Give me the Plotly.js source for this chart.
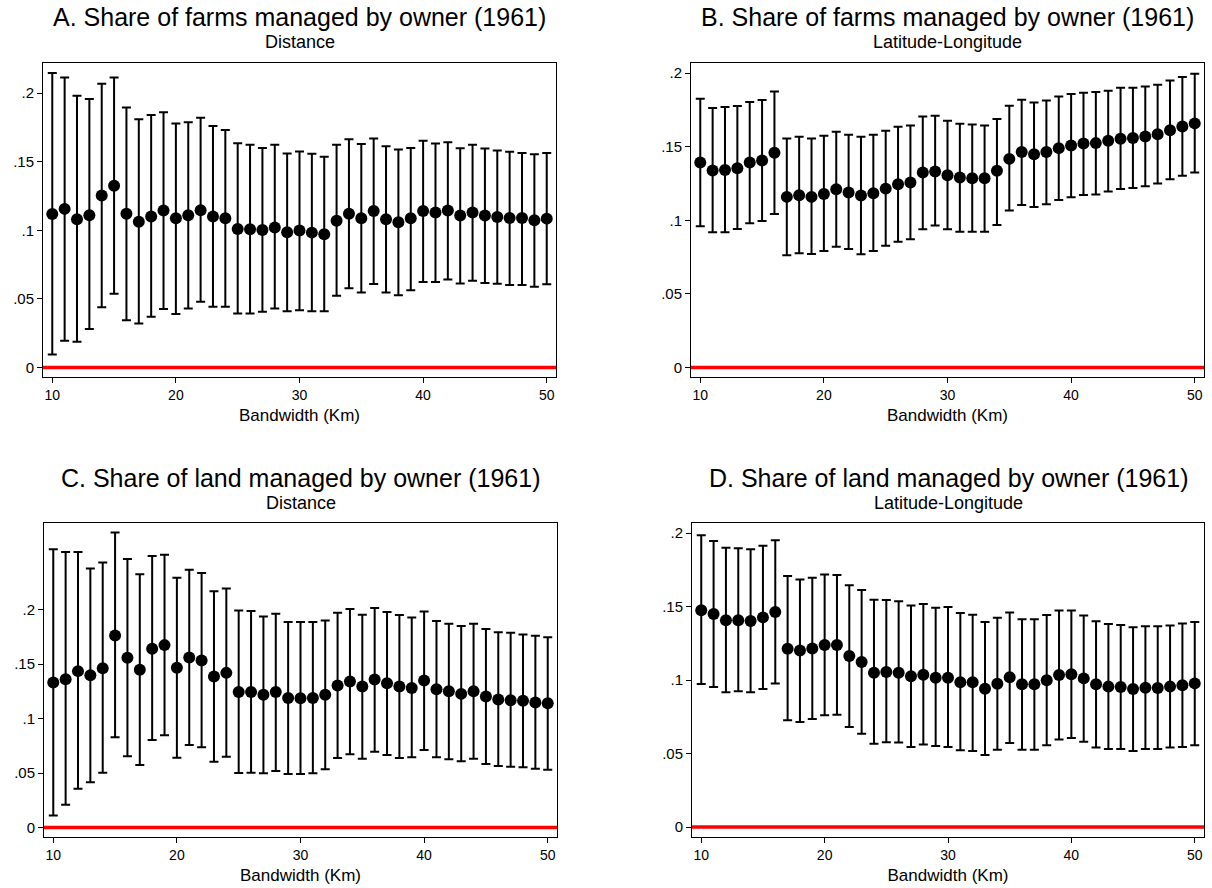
<!DOCTYPE html>
<html>
<head>
<meta charset="utf-8">
<script src="https://cdn.plot.ly/plotly-3.0.1.min.js"></script>
<style>
  html, body { margin: 0; padding: 0; background: #fff; }
  #chart { width: 1212px; height: 888px; }
</style>
</head>
<body>
<div id="chart"></div>
<script>
// Bandwidth (Km)
const bandwidth = [10,11,12,13,14,15,16,17,18,19,20,21,22,23,24,25,26,27,28,29,30,
                   31,32,33,34,35,36,37,38,39,40,41,42,43,44,45,46,47,48,49,50];

// A. Share of farms managed by owner (1961) - Distance
const farmsDistEst = [.1119,.1156,.108,.111,.1253,.1324,.112,.1063,.110,.1144,.1088,.111,.1146,.110,.1088,.101,.1007,.1002,.102,.0985,.0998,
                      .0983,.0971,.107,.112,.1088,.1141,.108,.1058,.1088,.1141,.1129,.1144,.1107,.1129,.1107,.1097,.109,.109,.1073,.1085];
const farmsDistHi  = [.2146,.2114,.198,.1956,.2068,.2114,.1895,.181,.184,.186,.1779,.1788,.182,.176,.173,.1635,.1623,.160,.1623,.156,.1574,
                      .1557,.1535,.1623,.1664,.1628,.1669,.1613,.1589,.160,.1652,.1633,.1642,.1598,.1623,.1596,.1582,.1572,.1564,.1555,.1564];
const farmsDistLo  = [.0095,.0195,.0187,.028,.044,.0538,.0345,.032,.037,.0426,.039,.043,.048,.0443,.0443,.0394,.0394,.0406,.043,.041,.0418,
                      .0411,.0411,.0523,.0577,.0547,.0608,.0547,.0526,.0564,.0623,.0623,.0642,.0613,.0633,.0616,.0611,.0601,.0601,.0589,.0606];

// B. Share of farms managed by owner (1961) - Latitude-Longitude
const farmsLatLonEst = [.1392,.1338,.1342,.1354,.1392,.1406,.1458,.1159,.117,.1159,.1179,.1211,.1188,.1168,.1184,.1215,.1245,.1256,.1324,.1331,.1306,
                        .129,.1286,.1286,.1336,.1417,.1463,.1449,.1463,.149,.1508,.1522,.1524,.154,.1553,.1558,.1569,.1585,.1612,.1637,.1658];
const farmsLatLonHi  = [.1825,.1762,.1769,.1776,.1803,.1816,.1875,.1556,.1567,.1556,.1574,.1601,.158,.1567,.158,.1608,.1635,.1644,.1705,.171,.1676,
                        .1655,.1651,.1644,.1687,.1778,.1819,.18,.1814,.1841,.1857,.1866,.1871,.188,.19,.19,.1909,.1921,.195,.1973,.1995];
const farmsLatLonLo  = [.0959,.0918,.0918,.0941,.098,.0995,.1043,.0762,.0776,.0771,.0791,.0821,.0805,.0769,.0791,.0828,.0855,.0871,.0939,.0964,.0939,
                        .0923,.0923,.0923,.0968,.1066,.1104,.1091,.1109,.1138,.1156,.1172,.1175,.1195,.1213,.122,.1231,.1249,.1279,.1302,.1324];

// C. Share of land managed by owner (1961) - Distance
const landDistEst = [.1331,.1362,.1436,.1399,.1463,.1764,.1558,.1448,.1641,.1675,.1466,.1561,.1534,.1387,.142,.1245,.1245,.1218,.1245,.119,.1187,
                     .119,.1218,.1304,.134,.1294,.1359,.1325,.1294,.1282,.135,.127,.1252,.1227,.1252,.1202,.1175,.1169,.1163,.1147,.1141];
const landDistHi  = [.2555,.2531,.2531,.238,.2433,.2709,.2466,.2325,.2494,.2506,.2294,.2368,.2337,.2169,.2196,.1994,.1988,.1939,.1963,.1887,.1887,
                     .1887,.1902,.1972,.2006,.1954,.2015,.1979,.1951,.1929,.1985,.1896,.1871,.185,.1871,.1822,.1794,.1788,.1773,.1761,.1748];
const landDistLo  = [.011,.0209,.0356,.0414,.0503,.0828,.0653,.0574,.0804,.0847,.0641,.0758,.0736,.0604,.065,.05,.0503,.0497,.0518,.0491,.0491,
                     .0497,.0534,.0638,.0672,.0632,.0696,.0666,.0638,.0644,.0712,.0644,.0626,.0607,.0632,.0583,.0564,.0558,.0552,.054,.0531];

// D. Share of land managed by owner (1961) - Latitude-Longitude
const landLatLonEst = [.1474,.1449,.1406,.1406,.1401,.1426,.1463,.1213,.12,.1215,.1238,.1238,.1163,.1122,.105,.1054,.105,.1025,.1036,.1016,.1016,
                       .0984,.0984,.0941,.0975,.1018,.0971,.0971,.0998,.1034,.1039,.1011,.0971,.0955,.0952,.0939,.0948,.0946,.0955,.0964,.0977];
const landLatLonHi  = [.1984,.1946,.19,.1896,.1889,.1914,.195,.1707,.1683,.1696,.1717,.1714,.1644,.1612,.1546,.1544,.1535,.1506,.1517,.1492,.1497,
                       .1456,.1444,.1395,.1424,.146,.1413,.1413,.1442,.1472,.1472,.1438,.1399,.1381,.1374,.1358,.1365,.1365,.137,.1385,.1395];
const landLatLonLo  = [.0973,.0952,.0916,.0923,.0916,.0939,.0977,.0726,.0714,.0735,.076,.0764,.068,.0635,.0567,.0576,.0574,.0544,.0562,.0551,.0544,
                       .0522,.0517,.049,.0526,.0571,.0526,.0526,.0556,.0596,.0605,.058,.054,.0531,.0531,.0517,.0531,.0531,.054,.0544,.0556];

// Labels
const panelTitles = [
  "A. Share of farms managed by owner (1961)",
  "B. Share of farms managed by owner (1961)",
  "C. Share of land managed by owner (1961)",
  "D. Share of land managed by owner (1961)"
];
const panelSubtitles = ["Distance", "Latitude-Longitude", "Distance", "Latitude-Longitude"];
const xAxisTitle = "Bandwidth (Km)";
const yTickVals = [0, .05, .1, .15, .2];
const yTickText = ["0", ".05", ".1", ".15", ".2"];
const xTickVals = [10, 20, 30, 40, 50];

const FONT = "Arial, 'Liberation Sans', Helvetica, sans-serif";
const W = 1212, H = 888;

const series = [
  {est: farmsDistEst,   hi: farmsDistHi,   lo: farmsDistLo},
  {est: farmsLatLonEst, hi: farmsLatLonHi, lo: farmsLatLonLo},
  {est: landDistEst,    hi: landDistHi,    lo: landDistLo},
  {est: landLatLonEst,  hi: landLatLonHi,  lo: landLatLonLo}
];

// plot frames in pixels [left, top, right, bottom]
const frames = [
  [43, 63, 556, 377],
  [691, 63, 1204, 377],
  [44, 523, 557, 837],
  [692, 523, 1204, 837]
];
const yRanges = [[-0.0069, 0.2219], [-0.0064, 0.2068], [-0.0088, 0.2797], [-0.0068, 0.2068]];
const xRange = [9.25, 50.75];

const traces = [];
const layout = {
  width: W, height: H,
  margin: {l: 0, r: 0, t: 0, b: 0},
  paper_bgcolor: "#fff", plot_bgcolor: "#fff",
  showlegend: false,
  font: {family: FONT, color: "#000", size: 15},
  annotations: [],
  shapes: []
};

series.forEach((s, i) => {
  const n = i + 1;
  const xa = n === 1 ? "x" : "x" + n;
  const ya = n === 1 ? "y" : "y" + n;
  traces.push({
    type: "scatter", mode: "markers",
    x: bandwidth, y: s.est,
    xaxis: xa, yaxis: ya,
    marker: {color: "#000", size: 12, symbol: "circle"},
    error_y: {
      type: "data", symmetric: false,
      array: s.hi.map((h, k) => h - s.est[k]),
      arrayminus: s.lo.map((l, k) => s.est[k] - l),
      color: "#000", thickness: 2, width: 4.5
    },
    hoverinfo: "x+y"
  });
  const f = frames[i];
  const xKey = n === 1 ? "xaxis" : "xaxis" + n;
  const yKey = n === 1 ? "yaxis" : "yaxis" + n;
  layout[xKey] = {
    domain: [f[0] / W, f[2] / W],
    anchor: ya,
    range: xRange,
    tickvals: xTickVals,
    ticks: "outside", ticklen: 5, tickwidth: 1, tickcolor: "#000",
    showline: true, linecolor: "#000", linewidth: 1, mirror: true,
    showgrid: false, zeroline: false,
    tickfont: {family: FONT, size: 14, color: "#000"},
    title: {text: xAxisTitle, font: {family: FONT, size: 17, color: "#000"}, standoff: 7}
  };
  layout[yKey] = {
    domain: [1 - f[3] / H, 1 - f[1] / H],
    anchor: xa,
    range: yRanges[i],
    tickvals: yTickVals, ticktext: yTickText,
    ticks: "outside", ticklen: 5, tickwidth: 1, tickcolor: "#000",
    showline: true, linecolor: "#000", linewidth: 1, mirror: true,
    showgrid: false, zeroline: false,
    tickfont: {family: FONT, size: 15, color: "#000"}
  };
  // red reference line at zero
  layout.shapes.push({
    type: "line", xref: xa + " domain", yref: ya,
    x0: 0, x1: 1, y0: 0, y1: 0,
    line: {color: "#ff0000", width: 3.5}, layer: "below"
  });
  const cx = (f[0] + f[2]) / 2 / W;
  layout.annotations.push({
    text: panelTitles[i], xref: "paper", yref: "paper",
    x: cx, y: 1 - (f[1] - 45.5) / H, xanchor: "center", yanchor: "middle",
    showarrow: false, font: {family: FONT, size: 25, color: "#000"}
  });
  layout.annotations.push({
    text: panelSubtitles[i], xref: "paper", yref: "paper",
    x: cx, y: 1 - (f[1] - 20.5) / H, xanchor: "center", yanchor: "middle",
    showarrow: false, font: {family: FONT, size: 18, color: "#000"}
  });
});

Plotly.newPlot("chart", traces, layout, {displayModeBar: false, staticPlot: true});
</script>
</body>
</html>
